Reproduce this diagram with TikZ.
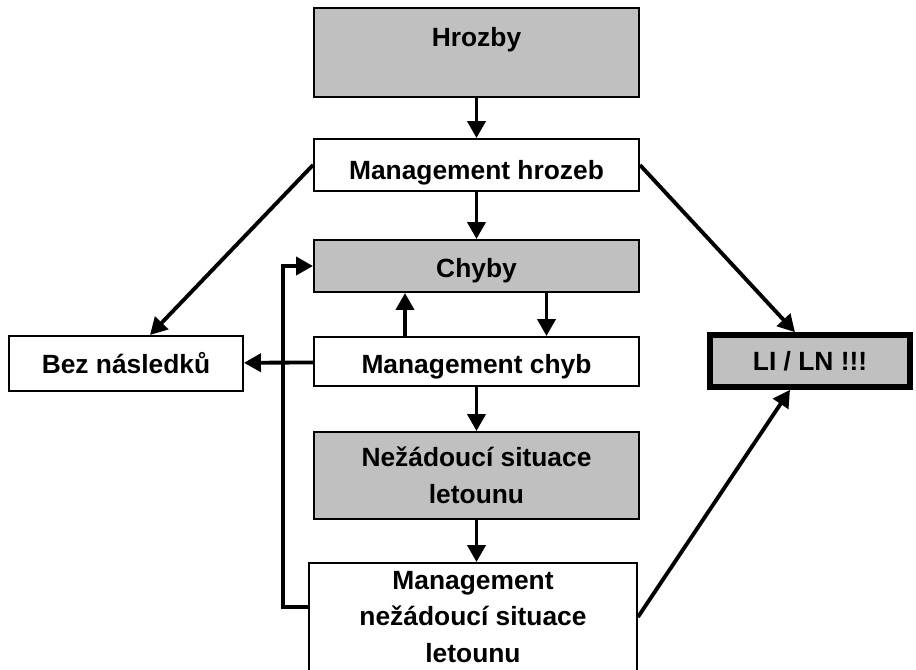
\documentclass[tikz,border=0pt]{standalone}
\usepackage{fontspec}
\setmainfont{Liberation Sans}
\usetikzlibrary{arrows.meta}
\definecolor{boxgray}{RGB}{192,192,192}
\begin{document}
\begin{tikzpicture}

\tikzstyle{whitebox} = [draw,line width=1.1pt,fill=white,inner sep=2,align=center,font=\fontsize{15}{21}\selectfont\bfseries]
\tikzstyle{graybox} = [whitebox,fill=boxgray]
\tikzstyle{arr} = [line width=2.2pt,-{Triangle[length=0.34cm,width=0.36cm]}]

\useasboundingbox (0,0) rectangle (18.32,-13.4);

\node [graybox,minimum width=6.5cm,minimum height=1.78cm,text depth=0.62cm] (hrozby) at (9.53,-1.05) {Hrozby};
\node [whitebox,minimum width=6.5cm,minimum height=1.04cm,text height=0.69cm] (mhrozeb) at (9.53,-3.3) {Management hrozeb};
\node [graybox,minimum width=6.5cm,minimum height=1.04cm,text height=0.57cm] (chyby) at (9.53,-5.32) {Chyby};
\node [whitebox,minimum width=6.5cm,minimum height=0.98cm,text height=0.59cm] (mchyb) at (9.53,-7.23) {Management chyb};
\node [graybox,minimum width=6.5cm,minimum height=1.74cm] (nezad) at (9.53,-9.51) {Nežádoucí situace\\letounu};
\node [whitebox,minimum width=6.56cm,minimum height=2.16cm] (mnezad) at (9.46,-12.34) {Management\\nežádoucí situace\\letounu};

\node [whitebox,minimum width=4.68cm,minimum height=1.1cm] (bez) at (2.52,-7.27) {Bez následků};
\node [graybox,line width=3.2pt,minimum width=4.0cm,minimum height=1.04cm] (lili) at (16.2,-7.22) {LI / LN !!!};

\draw [arr] (hrozby) -- (mhrozeb);
\draw [arr] (mhrozeb) -- (chyby);
\draw [arr] (mhrozeb.west) -- ([xshift=0.48cm]bez.north);
\draw [arr] (mhrozeb.east) -- ([xshift=-0.3cm]lili.north);
\draw [arr] ([xshift=-1.43cm]mchyb.north) -- ([xshift=-1.43cm]chyby.south);
\draw [arr] ([xshift=1.4cm]chyby.south) -- ([xshift=1.4cm]mchyb.north);
\draw [arr] (mchyb) -- (bez);
\draw [arr] (mchyb) -- (nezad);
\draw [arr] (nezad.south) -- (nezad.south |- mnezad.north);
\draw [arr] ([yshift=0.2cm]mnezad.west) -- ++(-0.5,0) |- (chyby.west);
\draw [arr] (mnezad.east) -- ([xshift=-0.4cm]lili.south);
\end{tikzpicture}
\end{document}
